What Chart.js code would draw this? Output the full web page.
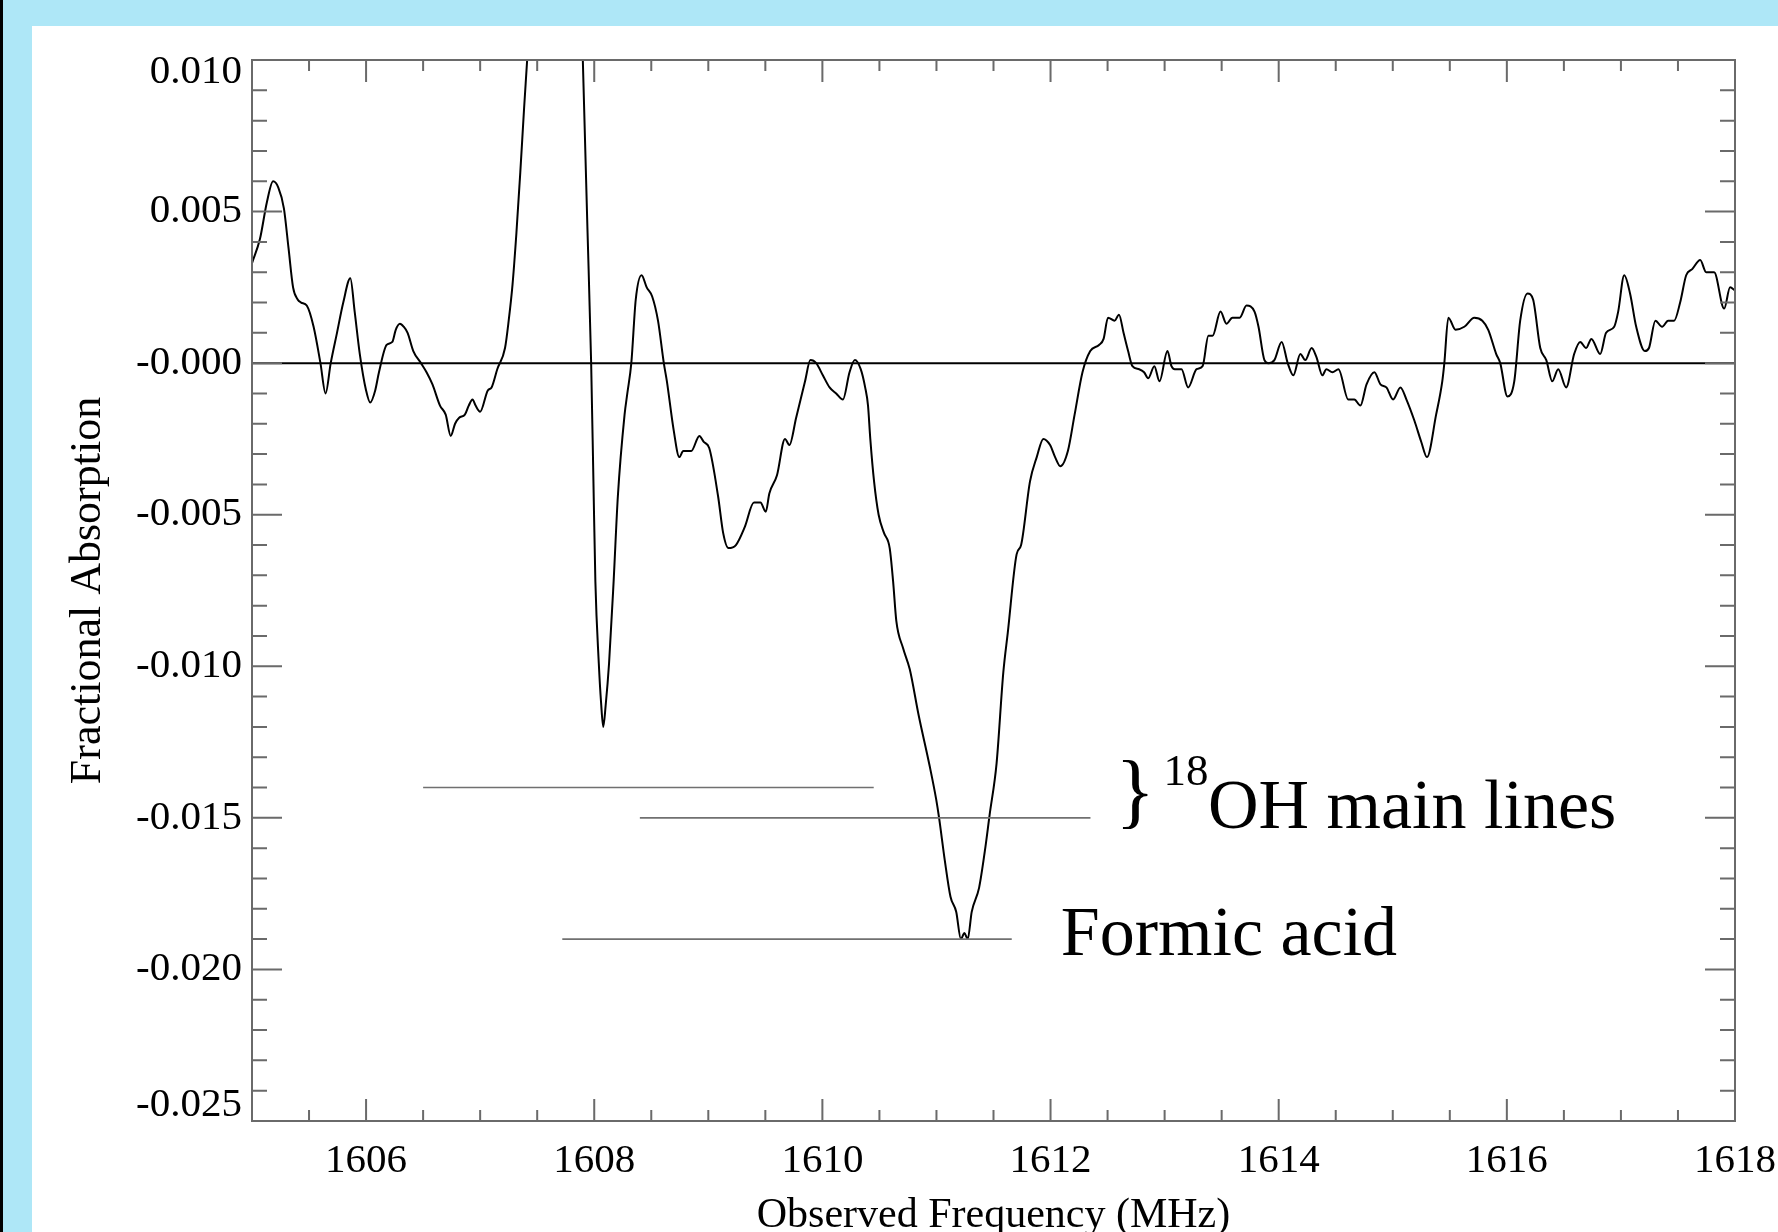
<!DOCTYPE html>
<html>
<head>
<meta charset="utf-8">
<title>Fractional Absorption</title>
<script src="https://cdn.jsdelivr.net/npm/chart.js@4/dist/chart.umd.min.js"></script>
<style>
    html, body {
        margin: 0;
        padding: 0;
        width: 1778px;
        height: 1232px;
        overflow: hidden;
        background: #aee7f7;
    }
    .edge {
        position: absolute;
        left: 0;
        top: 0;
        width: 3px;
        height: 1232px;
        background: #000;
    }
    #spectrumChart {
        position: absolute;
        left: 32px;
        top: 26px;
        background: #ffffff;
    }
</style>
</head>
<body>
<div class="edge"></div>
<canvas id="spectrumChart" width="1760" height="1250"></canvas>
<script>
// Observed frequency (MHz) and fractional absorption
var freq = [
    1605.00, 1605.07, 1605.13, 1605.185, 1605.23, 1605.28, 1605.32, 1605.36, 1605.40, 1605.43,
    1605.48, 1605.54, 1605.60, 1605.645, 1605.69, 1605.745, 1605.80, 1605.862, 1605.90, 1605.945,
    1606.00, 1606.036, 1606.08, 1606.113, 1606.18, 1606.23, 1606.26, 1606.297, 1606.33, 1606.364,
    1606.414, 1606.481, 1606.53, 1606.582, 1606.648, 1606.698, 1606.742, 1606.78, 1606.816, 1606.866,
    1606.90, 1606.933, 1606.96, 1607.00, 1607.067, 1607.10, 1607.15, 1607.218, 1607.25, 1607.284,
    1607.318, 1607.352, 1607.385, 1607.412, 1607.45, 1607.55, 1607.65, 1607.75, 1607.85, 1607.90,
    1607.94, 1607.973, 1607.993, 1608.01, 1608.04, 1608.06, 1608.079, 1608.10, 1608.13, 1608.17,
    1608.207, 1608.266, 1608.29, 1608.325, 1608.364, 1608.415, 1608.46, 1608.508, 1608.559, 1608.61,
    1608.637, 1608.696, 1608.746, 1608.78, 1608.85, 1608.922, 1608.96, 1609.008, 1609.086, 1609.13,
    1609.176, 1609.242, 1609.32, 1609.40, 1609.457, 1609.504, 1609.535, 1609.602, 1609.672, 1609.711,
    1609.77, 1609.848, 1609.895, 1609.946, 1610.004, 1610.063, 1610.121, 1610.18, 1610.238, 1610.285,
    1610.336, 1610.375, 1610.40, 1610.42, 1610.453, 1610.493, 1610.54, 1610.59, 1610.62, 1610.648,
    1610.707, 1610.766, 1610.843, 1610.941, 1610.998, 1611.023, 1611.073, 1611.123, 1611.173, 1611.214,
    1611.245, 1611.274, 1611.309, 1611.374, 1611.424, 1611.466, 1611.527, 1611.586, 1611.625, 1611.703,
    1611.742, 1611.82, 1611.879, 1611.937, 1611.996, 1612.04, 1612.086, 1612.152, 1612.211, 1612.28,
    1612.348, 1612.425, 1612.465, 1612.504, 1612.562, 1612.60, 1612.64, 1612.68, 1612.718, 1612.777,
    1612.82, 1612.856, 1612.91, 1612.955, 1613.025, 1613.06, 1613.089, 1613.148, 1613.206, 1613.28,
    1613.333, 1613.384, 1613.42, 1613.49, 1613.542, 1613.594, 1613.658, 1613.718, 1613.788, 1613.823,
    1613.875, 1613.91, 1613.962, 1614.026, 1614.079, 1614.128, 1614.19, 1614.233, 1614.289, 1614.331,
    1614.383, 1614.418, 1614.471, 1614.524, 1614.61, 1614.663, 1614.716, 1614.77, 1614.839, 1614.892,
    1614.944, 1615.003, 1615.067, 1615.12, 1615.19, 1615.25, 1615.30, 1615.38, 1615.434, 1615.452,
    1615.487, 1615.55, 1615.627, 1615.715, 1615.785, 1615.837, 1615.907, 1615.942, 1616.005, 1616.065,
    1616.117, 1616.181, 1616.23, 1616.293, 1616.346, 1616.398, 1616.45, 1616.52, 1616.59, 1616.643,
    1616.695, 1616.741, 1616.818, 1616.87, 1616.941, 1616.976, 1617.029, 1617.08, 1617.134, 1617.21,
    1617.246, 1617.302, 1617.361, 1617.414, 1617.466, 1617.519, 1617.572, 1617.625, 1617.695, 1617.747,
    1617.817, 1617.905, 1617.957, 1618.00
];
var absorption = [
    0.0033, 0.0041, 0.0053, 0.0060, 0.0058, 0.0051, 0.0038, 0.0025, 0.0021, 0.0020,
    0.0019, 0.0012, 0.0000, -0.0010, 0.0000, 0.0010, 0.0020, 0.0028, 0.0017, 0.0003,
    -0.0009, -0.0013, -0.0009, -0.0003, 0.0006, 0.0007, 0.0011, 0.0013, 0.0012, 0.0010,
    0.0004, 0.0000, -0.0003, -0.0007, -0.0014, -0.0017, -0.0024, -0.0020, -0.0018, -0.0017,
    -0.0014, -0.0012, -0.0014, -0.0016, -0.0009, -0.0008, -0.0002, 0.0005, 0.0014, 0.0026,
    0.0043, 0.0063, 0.0084, 0.0100, 0.0124, 0.0180, 0.0210, 0.0200, 0.0166, 0.0100,
    0.0045, 0.0000, -0.0039, -0.0072, -0.0099, -0.0112, -0.0120, -0.0113, -0.0099, -0.0072,
    -0.0044, -0.0017, -0.0010, 0.0000, 0.0021, 0.0029, 0.0025, 0.0022, 0.0014, 0.0000,
    -0.0006, -0.0022, -0.0031, -0.0029, -0.0029, -0.0024, -0.0026, -0.0028, -0.0044, -0.0056,
    -0.0061, -0.0060, -0.0054, -0.0046, -0.0046, -0.0049, -0.0043, -0.0037, -0.0025, -0.0027,
    -0.0018, -0.0006, 0.0001, 0.0000, -0.0004, -0.0008, -0.0010, -0.0012, -0.0003, 0.0001,
    -0.0002, -0.0008, -0.0014, -0.0025, -0.0039, -0.0050, -0.0056, -0.0061, -0.0072, -0.0085,
    -0.0094, -0.0101, -0.0116, -0.0133, -0.0144, -0.0150, -0.0164, -0.0176, -0.0181, -0.0190,
    -0.0188, -0.0190, -0.0181, -0.0173, -0.0161, -0.0149, -0.0132, -0.0102, -0.0089, -0.0063,
    -0.0060, -0.0039, -0.0031, -0.0025, -0.0027, -0.0031, -0.0034, -0.0029, -0.0017, -0.0003,
    0.0004, 0.0006, 0.0008, 0.0015, 0.0014, 0.0016, 0.0010, 0.0004, -0.0001, -0.0002,
    -0.0003, -0.0005, -0.0001, -0.0006, 0.0004, -0.0001, -0.0002, -0.0002, -0.0008, -0.0002,
    -0.0001, 0.0009, 0.0009, 0.0017, 0.0013, 0.0015, 0.0015, 0.0019, 0.0017, 0.0012,
    0.0001, 0.0000, 0.0001, 0.0007, 0.0000, -0.0004, 0.0003, 0.0001, 0.0005, 0.0002,
    -0.0004, -0.0002, -0.0003, -0.0002, -0.0012, -0.0012, -0.0014, -0.0007, -0.0003, -0.0007,
    -0.0008, -0.0012, -0.0008, -0.0012, -0.0019, -0.0026, -0.0031, -0.0017, -0.0006, 0.0000,
    0.0015, 0.0011, 0.0012, 0.0015, 0.0014, 0.0011, 0.0003, 0.0000, -0.0011, -0.0006,
    0.0014, 0.0023, 0.0021, 0.0005, 0.0001, -0.0006, -0.0002, -0.0008, 0.0003, 0.0007,
    0.0005, 0.0008, 0.0003, 0.0010, 0.0012, 0.0017, 0.0029, 0.0023, 0.0012, 0.0004,
    0.0005, 0.0014, 0.0012, 0.0014, 0.0014, 0.0020, 0.0029, 0.0031, 0.0034, 0.0030,
    0.0030, 0.0018, 0.0025, 0.0024
];

// Line identifications: level, start and end frequency of each marker
var markerLevel = [-0.014, -0.015, -0.019];
var markerStart = [1606.50, 1608.40, 1607.72];
var markerEnd = [1610.45, 1612.35, 1611.66];

// Axes
var xRange = [1605, 1618];
var yRange = [-0.025, 0.010];
var xTickValues = [1606, 1608, 1610, 1612, 1614, 1616, 1618];
var yTickValues = [-0.025, -0.020, -0.015, -0.010, -0.005, 0.000, 0.005, 0.010];
var yTickLabels = ['-0.025', '-0.020', '-0.015', '-0.010', '-0.005', '-0.000', '0.005', '0.010'];

var serif = "'Liberation Serif', 'DejaVu Serif', serif";

document.addEventListener('DOMContentLoaded', function () {
    var spectrum = freq.map(function (f, i) { return { x: f, y: absorption[i] }; });

    var datasets = [{
        label: 'zero',
        data: [{ x: xRange[0], y: 0 }, { x: xRange[1], y: 0 }],
        borderColor: '#000000',
        borderWidth: 2,
        pointRadius: 0
    }];
    markerLevel.forEach(function (level, i) {
        datasets.push({
            label: 'marker ' + i,
            data: [{ x: markerStart[i], y: level }, { x: markerEnd[i], y: level }],
            borderColor: '#707070',
            borderWidth: 1.6,
            pointRadius: 0
        });
    });
    datasets.push({
        label: 'Fractional Absorption',
        data: spectrum,
        borderColor: '#000000',
        borderWidth: 2,
        pointRadius: 0,
        cubicInterpolationMode: 'monotone'
    });

    // frame with inward ticks on all four sides, and the line labels
    var framePlugin = {
        id: 'frame',
        afterDatasetsDraw: function (chart) {
            var ctx = chart.ctx;
            var a = chart.chartArea;
            var xs = chart.scales.x;
            var ys = chart.scales.y;
            ctx.save();
            ctx.strokeStyle = '#6a6a6a';
            ctx.lineWidth = 2;
            ctx.strokeRect(a.left, a.top, a.right - a.left, a.bottom - a.top);
            ctx.beginPath();
            for (var k = xRange[0] * 2; k <= xRange[1] * 2; k++) {
                var px = xs.getPixelForValue(k / 2);
                var lx = (k % 4 === 0) ? 22 : 11;
                ctx.moveTo(px, a.bottom);
                ctx.lineTo(px, a.bottom - lx);
                ctx.moveTo(px, a.top);
                ctx.lineTo(px, a.top + lx);
            }
            for (var m = -25; m <= 10; m++) {
                var py = ys.getPixelForValue(m / 1000);
                var ly = (m % 5 === 0) ? 30 : 15;
                ctx.moveTo(a.left, py);
                ctx.lineTo(a.left + ly, py);
                ctx.moveTo(a.right, py);
                ctx.lineTo(a.right - ly, py);
            }
            ctx.stroke();

            ctx.fillStyle = '#000000';
            ctx.textAlign = 'left';
            ctx.textBaseline = 'alphabetic';
            ctx.font = '82px ' + serif;
            ctx.fillText('}', xs.getPixelForValue(1612.57), ys.getPixelForValue(-0.01502));
            ctx.font = '45px ' + serif;
            ctx.fillText('18', xs.getPixelForValue(1612.99), ys.getPixelForValue(-0.01393));
            ctx.font = '70px ' + serif;
            ctx.fillText('OH main lines', xs.getPixelForValue(1613.38), ys.getPixelForValue(-0.01535));
            ctx.fillText('Formic acid', xs.getPixelForValue(1612.09), ys.getPixelForValue(-0.01954));
            ctx.restore();
        }
    };

    var last = yTickValues.length - 1;

    var ctx = document.getElementById('spectrumChart').getContext('2d');
    var spectrumChart = new Chart(ctx, {
        type: 'line',
        data: { datasets: datasets },
        plugins: [framePlugin],
        options: {
            responsive: false,
            animation: false,
            devicePixelRatio: 1,
            layout: {
                padding: { top: 34, right: 55, left: 0, bottom: 0 }
            },
            scales: {
                x: {
                    type: 'linear',
                    position: 'bottom',
                    min: xRange[0],
                    max: xRange[1],
                    afterBuildTicks: function (axis) {
                        axis.ticks = xTickValues.map(function (v) { return { value: v }; });
                    },
                    afterFit: function (axis) {
                        axis.height = 155;
                    },
                    grid: { display: false, drawTicks: false },
                    border: { display: false },
                    ticks: {
                        color: '#000000',
                        padding: 16,
                        maxRotation: 0,
                        autoSkip: false,
                        font: { family: serif, size: 41 },
                        callback: function (value) { return String(value); }
                    },
                    title: {
                        display: true,
                        text: 'Observed Frequency (MHz)',
                        color: '#000000',
                        font: { family: serif, size: 42 },
                        padding: { top: 0, bottom: 35 }
                    }
                },
                y: {
                    type: 'linear',
                    min: yRange[0],
                    max: yRange[1],
                    afterBuildTicks: function (axis) {
                        axis.ticks = yTickValues.map(function (v) { return { value: v }; });
                    },
                    afterFit: function (axis) {
                        axis.width = 220;
                    },
                    grid: { display: false, drawTicks: false },
                    border: { display: false },
                    ticks: {
                        color: '#000000',
                        padding: 10,
                        autoSkip: false,
                        // end labels sit a little inside the axis range, as in the original
                        font: function (c) {
                            var lh = 1.2;
                            if (c.index === last) lh = 0.585;
                            if (c.index === 0) lh = 0.766;
                            return { family: serif, size: 41, lineHeight: lh };
                        },
                        callback: function (value, index) {
                            if (index === last) return ['', yTickLabels[index]];
                            if (index === 0) return [yTickLabels[index], ''];
                            return yTickLabels[index];
                        }
                    },
                    title: {
                        display: true,
                        text: 'Fractional Absorption',
                        color: '#000000',
                        font: { family: serif, size: 44 },
                        padding: { top: 30, bottom: 0 }
                    }
                }
            },
            plugins: {
                legend: { display: false },
                tooltip: { enabled: false }
            }
        }
    });
});
</script>
</body>
</html>
